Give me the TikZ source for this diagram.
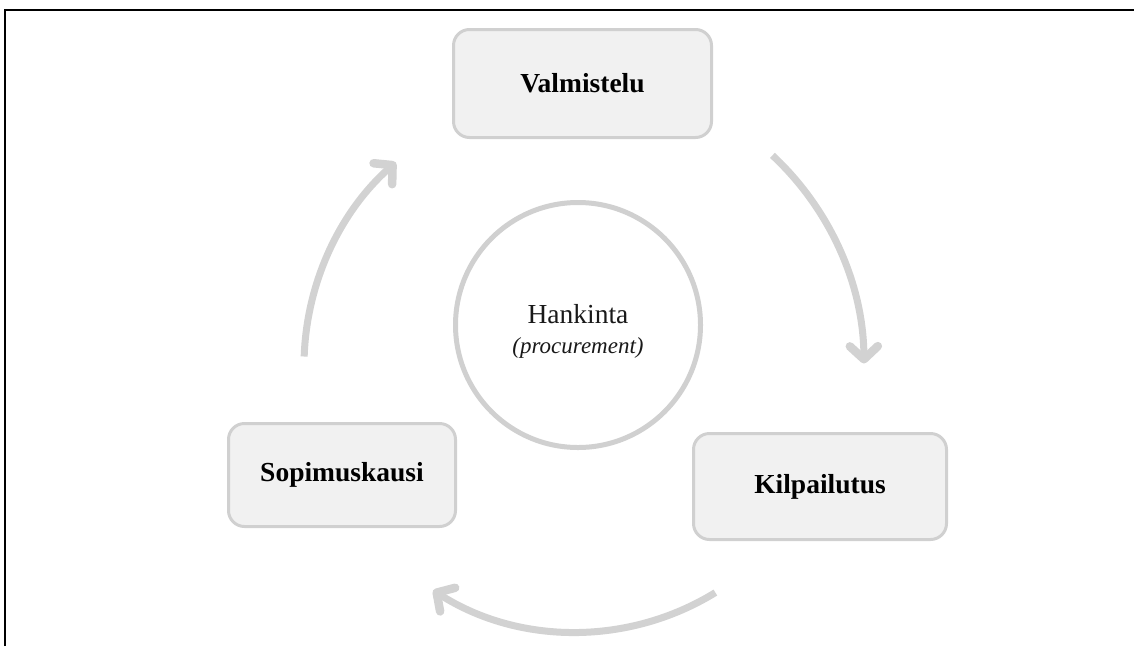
\documentclass[tikz,border=0pt]{standalone}
\usepackage{fontspec}
\setmainfont{Liberation Serif}
\usetikzlibrary{arrows.meta,calc}
\definecolor{boxfill}{HTML}{F1F1F1}
\definecolor{boxline}{HTML}{D0D0D0}
\definecolor{arrowgray}{HTML}{D2D2D2}
\tikzset{
  phasebox/.style={draw=boxline, line width=3pt, fill=boxfill, rounded corners=16pt,
    font=\fontsize{27.5}{33}\selectfont\bfseries, text=black, inner sep=0pt},
  hubcircle/.style={circle, draw=boxline, line width=5pt, minimum size=245pt, inner sep=0pt},
  cyclearrow/.style={draw=arrowgray, line width=7pt,
    -{Straight Barb[length=13pt,width=28pt,round,line width=8.5pt]}},
  frameline/.style={draw=black, line width=2pt},
}
\begin{document}
\begin{tikzpicture}[x=1pt,y=-1pt]
\useasboundingbox (0,0) rectangle (1134,646);
\fill[white] (0,0) rectangle (1134,646);
% frame (top and left edges)
\coordinate (fbl) at (5,646);
\coordinate (ftl) at (5,10);
\coordinate (ftr) at (1134,10);
\draw[frameline] (fbl) -- (ftl) -- (ftr);
% phase boxes
\node[phasebox, minimum width=258pt, minimum height=108pt] (valm) at (582.5,83.5) {Valmistelu};
\node[phasebox, minimum width=253pt, minimum height=106pt] (kilp) at (820,486.5) {Kilpailutus};
\node[phasebox, minimum width=227pt, minimum height=103pt] (sopi) at (342,475) {Sopimuskausi};
% hub
\node[hubcircle] (hub) at (578,325) {};
\node[anchor=base, font=\fontsize{27.5}{33}\selectfont, text=black!90] (hank) at (578,323) {Hankinta};
\node[anchor=base, font=\fontsize{23}{28}\selectfont\itshape, text=black!90] (proc) at (578,353) {(procurement)};
% cycle arrows
\coordinate (c) at (576,366);
\coordinate (a1s) at ($(c)+(-47:288)$);
\coordinate (a2s) at ($(c)+(58.4:266)$);
\coordinate (a3s) at ($(c)+(-178:272)$);
\draw[cyclearrow] (a1s) arc[start angle=-47, end angle=-0.5, radius=288];
\draw[cyclearrow] (a2s) arc[start angle=58.4, end angle=122.5, radius=266];
\draw[cyclearrow] (a3s) arc[start angle=-178, end angle=-131.5, radius=272];
\end{tikzpicture}
\end{document}
